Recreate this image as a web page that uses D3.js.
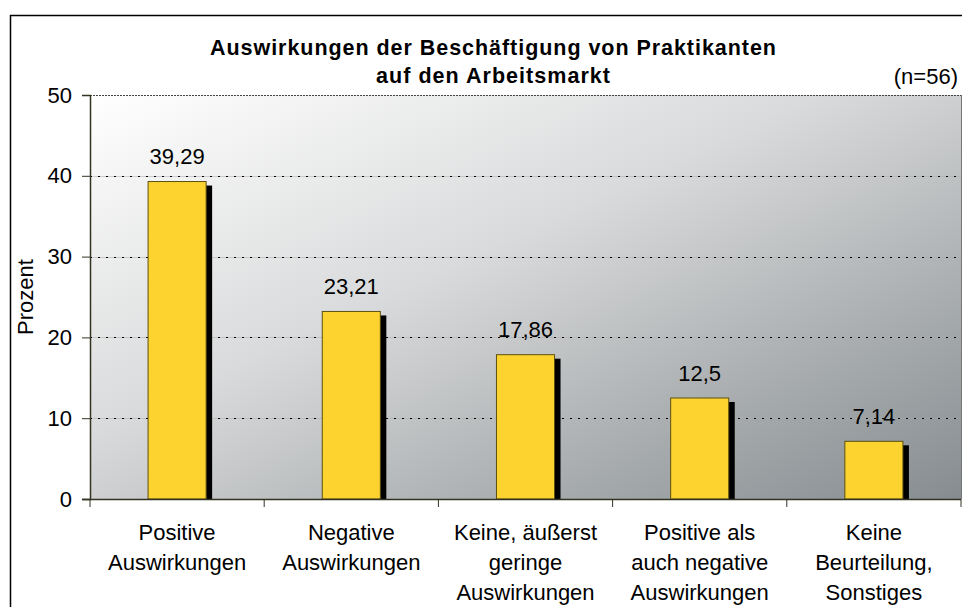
<!DOCTYPE html>
<html>
<head>
<meta charset="utf-8">
<script src="https://cdn.jsdelivr.net/npm/d3@7"></script>
<style>
  body { margin: 0; background: #fff; }
  text { font-family: "Liberation Sans", Arial, sans-serif; fill: #000; }
</style>
</head>
<body>
<svg id="chart" width="962" height="607"></svg>
<script>
// data
var categories = [
  ["Positive", "Auswirkungen"],
  ["Negative", "Auswirkungen"],
  ["Keine, äußerst", "geringe", "Auswirkungen"],
  ["Positive als", "auch negative", "Auswirkungen"],
  ["Keine", "Beurteilung,", "Sonstiges"]
];
var values = [39.29, 23.21, 17.86, 12.5, 7.14];
var valueLabels = ["39,29", "23,21", "17,86", "12,5", "7,14"];
var yTicks = [0, 10, 20, 30, 40, 50];
var titleLines = ["Auswirkungen der Beschäftigung von Praktikanten", "auf den Arbeitsmarkt"];

var svg = d3.select("#chart");

// plot area (window.top is taken, so prefixed names)
var plotL = 90, plotR = 961, plotT = 95, plotB = 499;

var x = d3.scaleBand()
  .domain(d3.range(categories.length))
  .range([plotL, plotR])
  .paddingInner(2/3)
  .paddingOuter(1/3);
var step = x.step();

var y = d3.scaleLinear().domain([0, 50]).range([plotB, plotT]);

// outer chart border
svg.append("rect")
  .attr("x", 10.5).attr("y", 15.5)
  .attr("width", 980).attr("height", 620)
  .attr("fill", "#fff")
  .attr("stroke", "#000")
  .attr("stroke-width", 1.5);

// background gradient
var grad = svg.append("defs").append("linearGradient")
  .attr("id", "bg")
  .attr("x1", 0).attr("y1", 0).attr("x2", 1).attr("y2", 1);
grad.append("stop").attr("offset", 0).attr("stop-color", "#ffffff");
grad.append("stop").attr("offset", 0.42).attr("stop-color", "#d9dadb");
grad.append("stop").attr("offset", 0.75).attr("stop-color", "#a8acae");
grad.append("stop").attr("offset", 1).attr("stop-color", "#868d91");

svg.append("rect")
  .attr("x", plotL).attr("y", plotT)
  .attr("width", plotR - plotL).attr("height", plotB - plotT)
  .attr("fill", "url(#bg)");

// right edge of the plot
svg.append("line")
  .attr("x1", plotR + 0.5).attr("x2", plotR + 0.5)
  .attr("y1", plotT).attr("y2", plotB)
  .attr("stroke", "#777").attr("stroke-width", 1);

// gridlines
var inner = yTicks.filter(function(d) { return d > 0 && d < 50; });
var grid = svg.append("g");
grid.selectAll("line.under")
  .data(inner)
  .enter().append("line")
  .attr("class", "under")
  .attr("x1", plotL).attr("x2", plotR)
  .attr("y1", function(d) { return Math.round(y(d)) + 0.5; })
  .attr("y2", function(d) { return Math.round(y(d)) + 0.5; })
  .attr("stroke", "#aaa").attr("stroke-opacity", 0.5);
grid.selectAll("line.dots")
  .data(inner)
  .enter().append("line")
  .attr("class", "dots")
  .attr("x1", plotL).attr("x2", plotR)
  .attr("y1", function(d) { return Math.round(y(d)) + 0.5; })
  .attr("y2", function(d) { return Math.round(y(d)) + 0.5; })
  .attr("stroke", "#000")
  .attr("stroke-dasharray", "2,6");
// top line at 50
svg.append("line")
  .attr("x1", plotL).attr("x2", plotR)
  .attr("y1", Math.round(y(50)) + 0.5).attr("y2", Math.round(y(50)) + 0.5)
  .attr("stroke", "#444")
  .attr("stroke-dasharray", "2,1");

// bar shadows
svg.selectAll("rect.shadow")
  .data(values)
  .enter().append("rect")
  .attr("class", "shadow")
  .attr("x", function(d, i) { return x(i) + 6; })
  .attr("y", function(d) { return y(d) + 4; })
  .attr("width", x.bandwidth())
  .attr("height", function(d) { return y(0) - y(d) - 4; })
  .attr("fill", "#000");

// bars
svg.selectAll("rect.bar")
  .data(values)
  .enter().append("rect")
  .attr("class", "bar")
  .attr("x", function(d, i) { return x(i); })
  .attr("y", function(d) { return y(d); })
  .attr("width", x.bandwidth())
  .attr("height", function(d) { return y(0) - y(d); })
  .attr("fill", "#fdd32f")
  .attr("stroke", "#5e5010")
  .attr("stroke-width", 1);

// value labels
svg.selectAll("text.val")
  .data(values)
  .enter().append("text")
  .attr("class", "val")
  .attr("x", function(d, i) { return x(i) + x.bandwidth() / 2; })
  .attr("y", function(d) { return y(d) - 17.5; })
  .attr("text-anchor", "middle")
  .style("font-size", "22px")
  .text(function(d, i) { return valueLabels[i]; });

// y axis
var yAxis = svg.append("g")
  .attr("transform", "translate(" + plotL + ",0)")
  .call(d3.axisLeft(y).tickValues(yTicks).tickSize(8).tickPadding(10).tickFormat(d3.format("d")));
yAxis.select(".domain").attr("stroke", "#333322").attr("stroke-width", 1.5);
yAxis.selectAll(".tick line").attr("stroke", "#333322");
yAxis.selectAll(".tick text")
  .style("font-size", "22px")
  .style("font-family", "'Liberation Sans', Arial, sans-serif")
  .attr("fill", "#000");

// x axis line and ticks at category boundaries
svg.append("line")
  .attr("x1", plotL - 8).attr("x2", plotR)
  .attr("y1", plotB + 0.5).attr("y2", plotB + 0.5)
  .attr("stroke", "#333322").attr("stroke-width", 1.5);
svg.selectAll("line.xtick")
  .data(d3.range(categories.length + 1))
  .enter().append("line")
  .attr("class", "xtick")
  .attr("x1", function(i) { return plotL + i * step; })
  .attr("x2", function(i) { return plotL + i * step; })
  .attr("y1", plotB).attr("y2", plotB + 8)
  .attr("stroke", "#333322").attr("stroke-width", 1);

// category labels
var cat = svg.selectAll("text.cat")
  .data(categories)
  .enter().append("text")
  .attr("class", "cat")
  .attr("text-anchor", "middle")
  .style("font-size", "22px");
cat.selectAll("tspan")
  .data(function(d, i) { return d.map(function(s) { return { s: s, i: i }; }); })
  .enter().append("tspan")
  .attr("x", function(d) { return x(d.i) + x.bandwidth() / 2; })
  .attr("y", function(d, j) { return 540 + j * 30; })
  .text(function(d) { return d.s; });

// axis title
svg.append("text")
  .attr("transform", "translate(33,297) rotate(-90)")
  .attr("text-anchor", "middle")
  .style("font-size", "22px")
  .text("Prozent");

// chart title, spaced out a bit like the original
var titleWidths = [566, 234];
svg.selectAll("text.title")
  .data(titleLines)
  .enter().append("text")
  .attr("class", "title")
  .attr("x", 493)
  .attr("y", function(d, i) { return 55 + i * 28; })
  .attr("text-anchor", "middle")
  .attr("textLength", function(d, i) { return titleWidths[i]; })
  .attr("lengthAdjust", "spacing")
  .style("font-size", "21.5px")
  .style("font-weight", "bold")
  .text(function(d) { return d; });

svg.append("text")
  .attr("x", 958)
  .attr("y", 84)
  .attr("text-anchor", "end")
  .style("font-size", "22px")
  .text("(n=56)");
</script>
</body>
</html>
